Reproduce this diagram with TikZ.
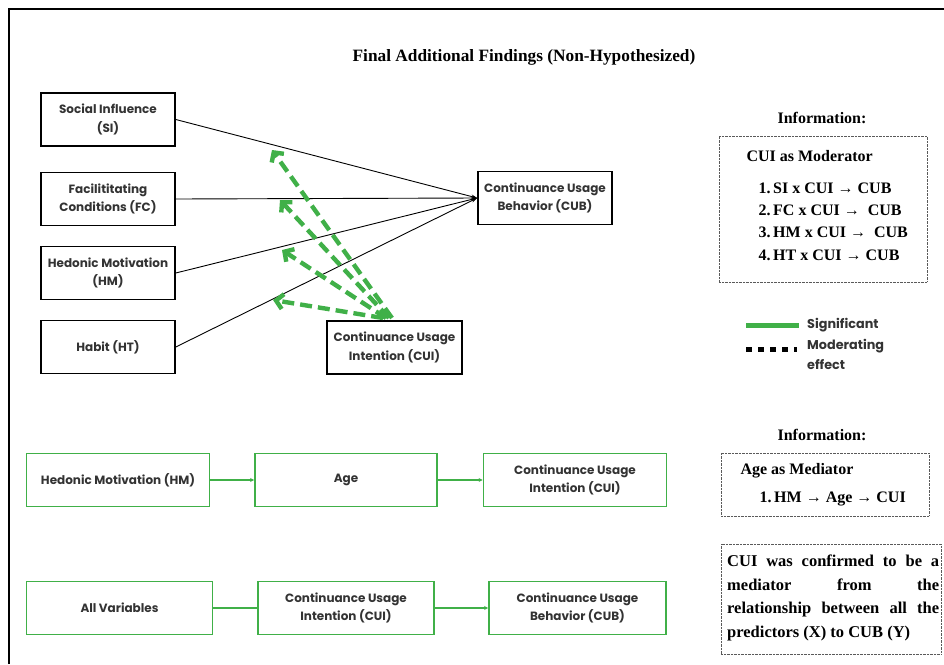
\documentclass[tikz,border=0pt]{standalone}
\usepackage{fontspec}
\setmainfont{Liberation Serif}
\newfontfamily\pop{Poppins}
\usetikzlibrary{arrows.meta}
\definecolor{grn}{RGB}{64,176,72}
\definecolor{dotc}{RGB}{90,90,90}
\begin{document}
\begin{tikzpicture}[x=1pt,y=-1pt,
  box/.style={draw, line width=1.6pt, minimum height=53pt, inner sep=1pt, align=center,
    font=\pop\bfseries\fontsize{12}{18.5}\selectfont, text=black!80},
  gbox/.style={box, draw=grn, line width=1.8pt},
  conn/.style={line width=0.9pt, -{Stealth[length=6pt,width=4pt]}},
  modarr/.style={draw=grn, line width=4.4pt, dash pattern=on 12pt off 6pt,
    -{Straight Barb[length=7pt,width=15pt]}},
  garr/.style={draw=grn, line width=1.5pt, -{Stealth[length=4pt,width=4pt]}},
  gline/.style={draw=grn, line width=1.5pt},
  infobox/.style={draw=dotc, line width=0.9pt, dash pattern=on 0.7pt off 0.7pt, inner sep=0pt},
  ser/.style={font=\bfseries\fontsize{16}{19}\selectfont},
  leg/.style={font=\pop\bfseries\fontsize{12.8}{20}\selectfont, text=black!80, align=left}
]
\useasboundingbox (0,0) rectangle (944,664);
\draw[line width=1.5pt] (9,664) -- (9,9) -- (944,9);

\node[font=\bfseries\fontsize{17.3}{20}\selectfont] (title) at (524,57) {Final Additional Findings (Non-Hypothesized)};

% upper model
\node[box, minimum width=134pt] (si) at (108,119.5) {Social Influence\\(SI)};
\node[box, minimum width=134pt] (fc) at (108,199) {Facilititating\\Conditions (FC)};
\node[box, minimum width=134pt] (hm) at (108,273) {Hedonic Motivation\\(HM)};
\node[box, minimum width=134pt] (ht) at (108,347) {Habit (HT)};
\node[box, minimum width=135pt] (cui) at (394.5,347.5) {Continuance Usage\\Intention (CUI)};
\node[box, minimum width=134pt] (cub) at (545,198) {Continuance Usage\\Behavior (CUB)};

\draw[conn] (si.east) -- (cub.west);
\draw[conn] (fc.east) -- (cub.west);
\draw[conn] (hm.east) -- (cub.west);
\draw[conn] (ht.east) -- (cub.west);

\coordinate (m1) at (392,318);
\coordinate (m2) at (389,318);
\coordinate (m3) at (386,318);
\coordinate (m4) at (383,318);
\coordinate (t1) at (272,150);
\coordinate (t2) at (280,200);
\coordinate (t3) at (282,250);
\coordinate (t4) at (273,300);
\draw[modarr] (m1) -- (t1);
\draw[modarr] (m2) -- (t2);
\draw[modarr] (m3) -- (t3);
\draw[modarr] (m4) -- (t4);

% information box 1
\node[font=\bfseries\fontsize{16}{19}\selectfont] (info1) at (822,118) {Information:};
\node[infobox, minimum width=208pt, minimum height=146pt] (ib1) at (823,209) {};
\node[ser, anchor=west] (modt) at (743,156) {CUI as Moderator};
\node[ser, anchor=west] (l1) at (755,188) {1.\,SI x CUI → CUB};
\node[ser, anchor=west] (l2) at (755,210) {2.\,FC x CUI →\enspace CUB};
\node[ser, anchor=west] (l3) at (755,232) {3.\,HM x CUI →\enspace CUB};
\node[ser, anchor=west] (l4) at (755,255) {4.\,HT x CUI → CUB};

% legend
\coordinate (ls1) at (746,325);
\coordinate (ls2) at (799,325);
\draw[draw=grn, line width=5pt] (ls1) -- (ls2);
\coordinate (ld1) at (746,349);
\coordinate (ld2) at (797,349);
\draw[line width=5pt, dash pattern=on 5.5pt off 6.5pt] (ld1) -- (ld2);
\node[leg, anchor=west, inner sep=0pt] (sig) at (807,325) {Significant};
\node[leg, anchor=north west, inner sep=0pt] (modeff) at (807,339) {Moderating\\effect};

% lower rows
\node[gbox, minimum width=183pt] (hm2) at (118,480) {Hedonic Motivation (HM)};
\node[gbox, minimum width=182pt] (age) at (346,480) {Age};
\node[gbox, minimum width=183pt] (cui2) at (575,480) {Continuance Usage\\Intention (CUI)};
\draw[garr] (hm2.east) -- (age.west);
\draw[garr] (age.east) -- (cui2.west);

\node[gbox, minimum width=186pt] (all) at (119.5,608) {All Variables};
\node[gbox, minimum width=176pt] (cui3) at (346,608) {Continuance Usage\\Intention (CUI)};
\node[gbox, minimum width=177pt] (cub2) at (577.5,608) {Continuance Usage\\Behavior (CUB)};
\draw[gline] (all.east) -- (cui3.west);
\draw[garr] (cui3.east) -- (cub2.west);

% information box 2
\node[font=\bfseries\fontsize{16}{19}\selectfont] (info2) at (822,435) {Information:};
\node[infobox, minimum width=208pt, minimum height=63pt] (ib2) at (825,484.5) {};
\node[ser, anchor=west] (aget) at (737,471) {Age as Mediator};
\node[ser, anchor=west] (al1) at (756,499) {1.\,HM → Age → CUI};

% box 3
\node[infobox, minimum width=220pt, minimum height=110pt] (ib3) at (831,599) {};
\node[font=\bfseries\fontsize{16.5}{23.5}\selectfont, anchor=west, inner sep=0pt, align=left] (conf) at (727,598) {%
\makebox[212pt][s]{CUI was confirmed to be a}\\
\makebox[212pt][s]{mediator from the}\\
\makebox[212pt][s]{relationship between all the}\\
predictors (X) to CUB (Y)};
\end{tikzpicture}
\end{document}
